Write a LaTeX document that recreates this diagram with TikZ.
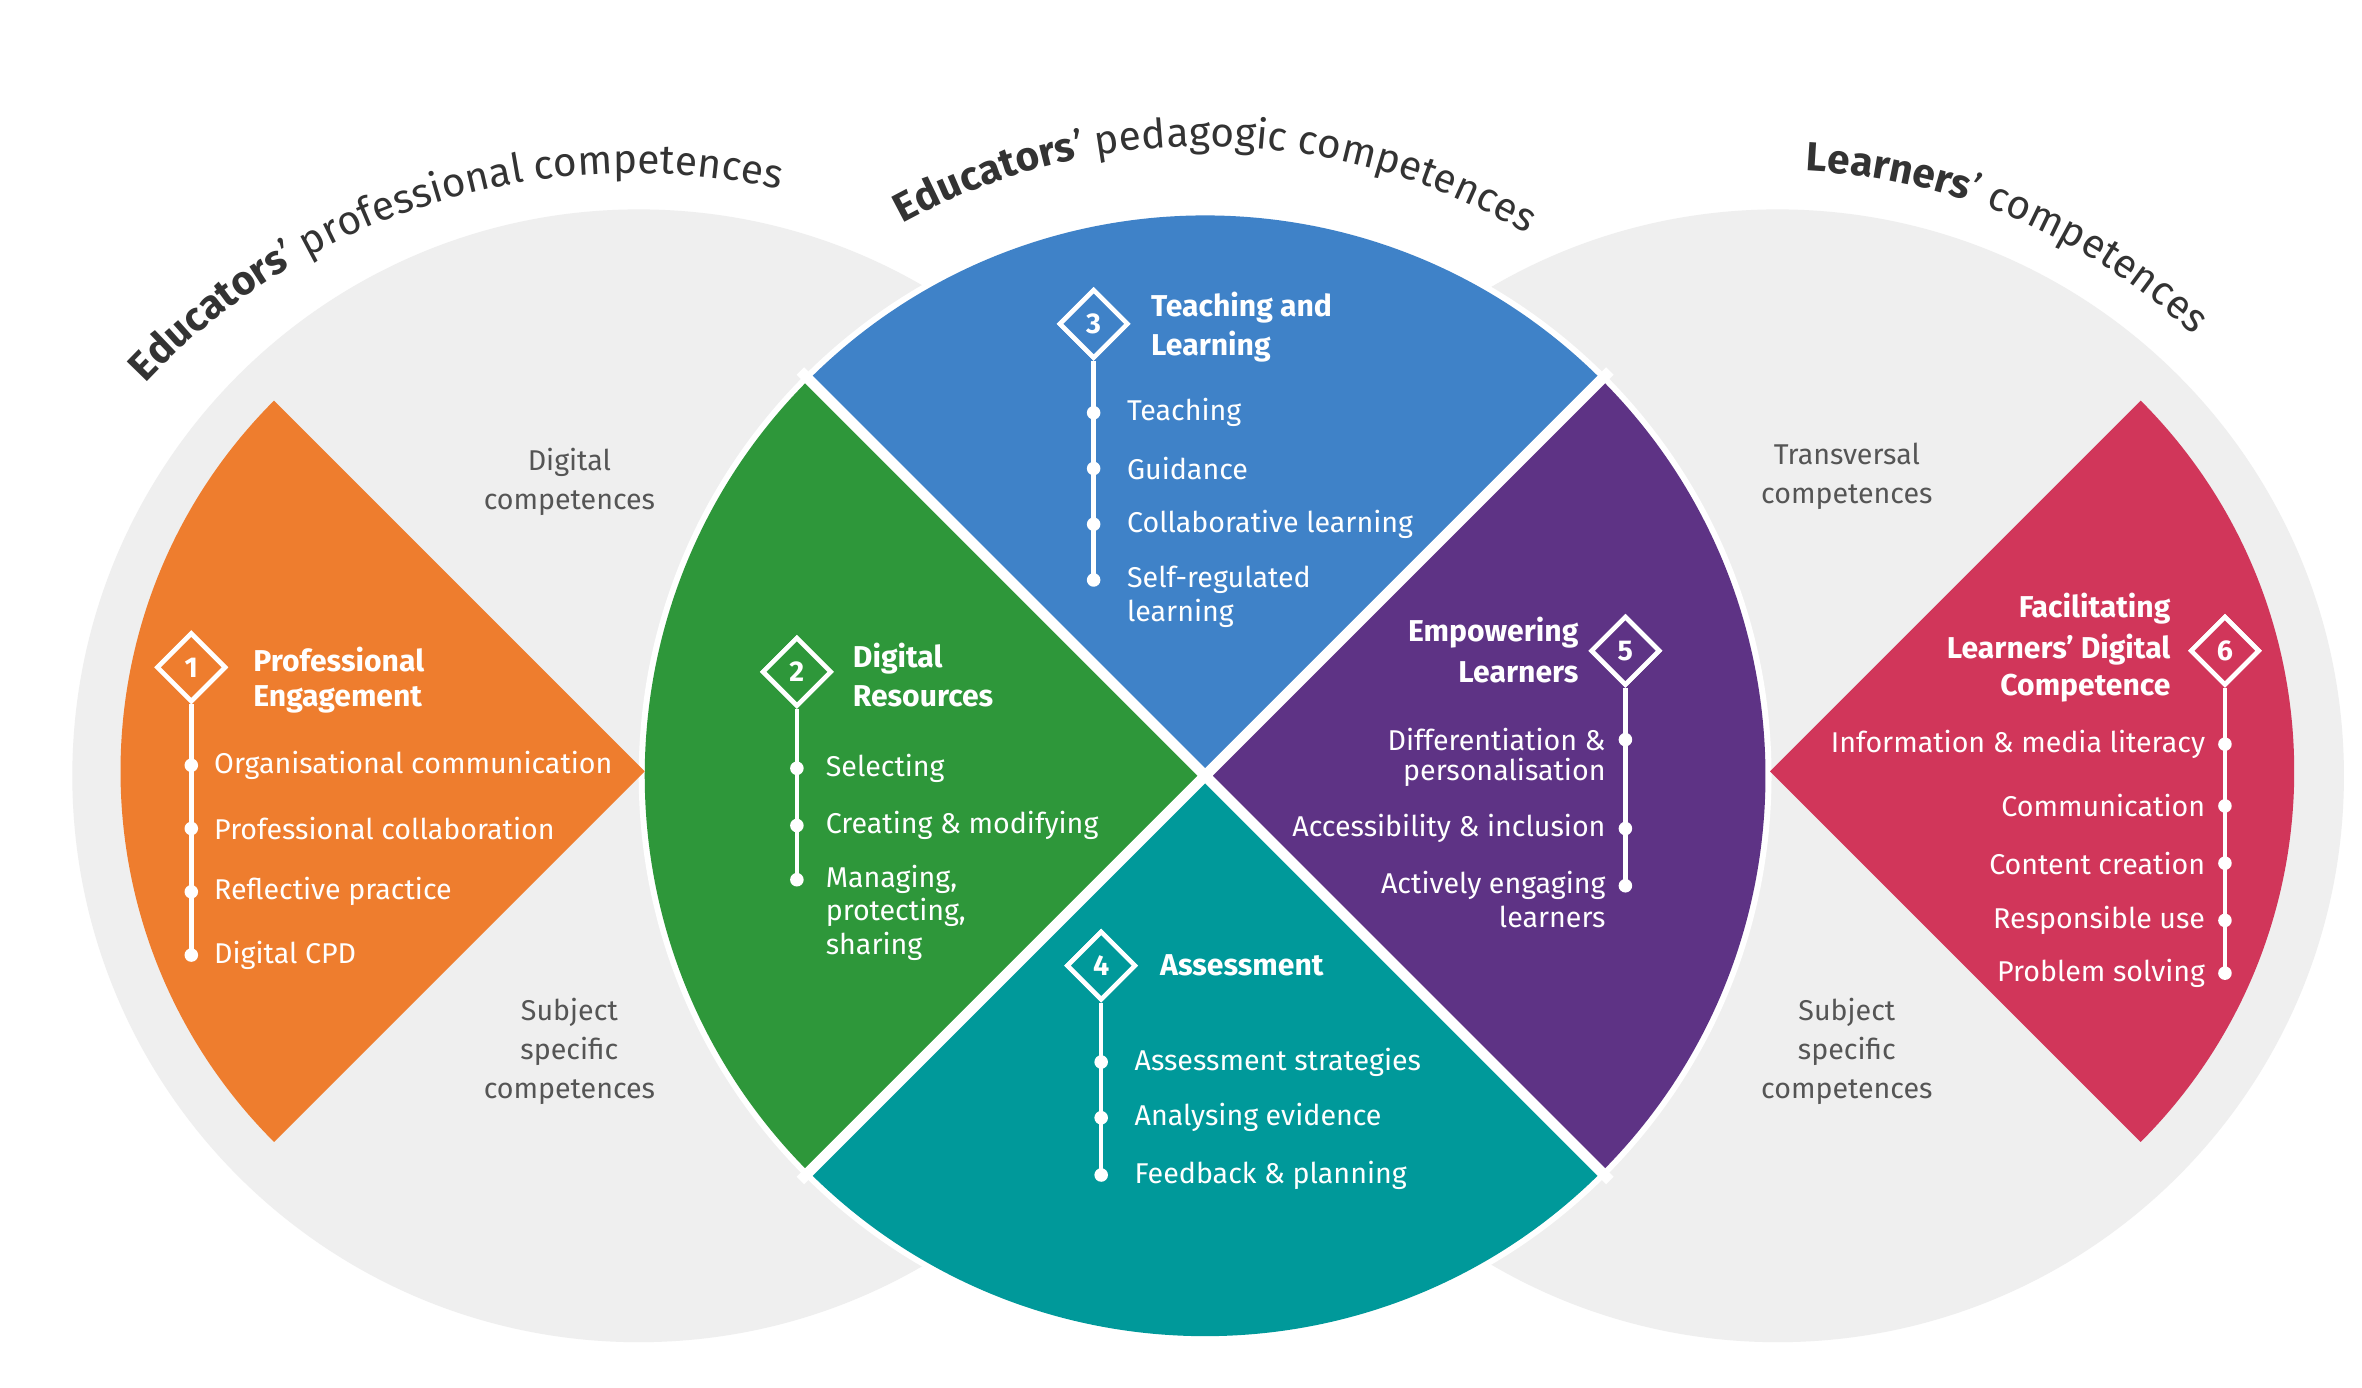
\documentclass[tikz,border=0pt]{standalone}
\usepackage{fontspec}
\setmainfont{Fira Sans}
\usetikzlibrary{shapes.geometric,decorations.text}
\definecolor{cgrey}{HTML}{EFEFEF}
\definecolor{corange}{HTML}{EE7D2E}
\definecolor{cgreen}{HTML}{2E973A}
\definecolor{cblue}{HTML}{3F82C8}
\definecolor{cteal}{HTML}{00999A}
\definecolor{cpurple}{HTML}{5E3385}
\definecolor{cred}{HTML}{D1365A}
\definecolor{ctext}{HTML}{555555}
\definecolor{chead}{HTML}{333333}
\tikzset{
 item/.style={text=white,font=\fontsize{19}{22}\selectfont,inner sep=0pt},
 ttl/.style={text=white,font=\fontsize{20}{22}\selectfont\bfseries,inner sep=0pt},
 gtx/.style={text=ctext,font=\fontsize{19}{26}\selectfont,align=center,inner sep=0pt},
 dia/.style={diamond,draw=white,line width=3pt,minimum size=46pt,inner sep=0pt,text=white,font=\fontsize{19}{22}\selectfont\bfseries},
 dot/.style={circle,fill=white,minimum size=9pt,inner sep=0pt},
 stem/.style={white,line width=3pt},
}
\begin{document}
\begin{tikzpicture}[x=1pt,y=1pt]
\useasboundingbox[fill=white] (0,0) rectangle (1568,-921);
% grey circles
\fill[cgrey] (424,-515) circle[radius=376];
\fill[cgrey] (1180,-515) circle[radius=376];
% centre circle
\fill[white] (800,-515) circle[radius=376];
\fill[cblue] (800,-515) -- ++(45:372) arc[start angle=45,end angle=135,radius=372] -- cycle;
\fill[cgreen] (800,-515) -- ++(135:372) arc[start angle=135,end angle=225,radius=372] -- cycle;
\fill[cteal] (800,-515) -- ++(225:372) arc[start angle=225,end angle=315,radius=372] -- cycle;
\fill[cpurple] (800,-515) -- ++(-45:372) arc[start angle=-45,end angle=45,radius=372] -- cycle;
\draw[white,line width=7pt] (800,-515) -- ++(45:380) (800,-515) -- ++(135:380) (800,-515) -- ++(225:380) (800,-515) -- ++(-45:380);
% side sectors
\fill[corange] (428,-512) -- ++(135:348) arc[start angle=135,end angle=225,radius=348] -- cycle;
\fill[cred] (1175,-512) -- ++(-45:348) arc[start angle=-45,end angle=45,radius=348] -- cycle;
% headings
\path[decorate,decoration={text along path,text align=center,text color=chead,
 text={|\fontsize{27}{30}\selectfont\bfseries|Educators|\fontsize{27}{30}\selectfont\mdseries|’ professional competences}}]
 (420,-560) ++(147:445) arc[start angle=147,end angle=67,radius=445];
\path[decorate,decoration={text along path,text align=center,text color=chead,
 text={|\fontsize{27}{30}\selectfont\bfseries|Educators|\fontsize{27}{30}\selectfont\mdseries|’ pedagogic competences}}]
 (800,-515) ++(130:418) arc[start angle=130,end angle=48,radius=418];
\path[decorate,decoration={text along path,text align=center,text color=chead,
 text={|\fontsize{27}{30}\selectfont\bfseries|Learners|\fontsize{27}{30}\selectfont\mdseries|’ competences}}]
 (1180,-515) ++(98:402) arc[start angle=98,end angle=36,radius=402];
% grey labels
\node[gtx] (g1) at (378,-320) {Digital\\competences};
\node[gtx] (g2) at (378,-698) {Subject\\specific\\competences};
\node[gtx] (g3) at (1226,-316) {Transversal\\competences};
\node[gtx] (g4) at (1226,-698) {Subject\\specific\\competences};
% 1 orange
\coordinate (e1) at (127,-634);
\node[dia,fill=corange] (d1) at (127,-443) {};
\draw[stem] (d1.south) -- (e1);
\node[dia,fill=corange] (d1b) at (127,-443) {1};
\node[ttl,anchor=west] (t1a) at (168,-438) {Professional};
\node[ttl,anchor=west] (t1b) at (168,-464) {Engagement};
\foreach \y/\t [count=\i] in {508/Organisational communication,550/Professional collaboration,592/Reflective practice,634/Digital CPD}{
 \node[dot] (p1\i) at (127,-\y) {};
 \node[item,anchor=west] (q1\i) at (142,-\y) {\t};}
% 2 green
\coordinate (e2) at (529,-584);
\node[dia,fill=cgreen] (d2) at (529,-446) {};
\draw[stem] (d2.south) -- (e2);
\node[dia,fill=cgreen] (d2b) at (529,-446) {2};
\node[ttl,anchor=west] (t2a) at (566,-437) {Digital};
\node[ttl,anchor=west] (t2b) at (566,-462) {Resources};
\foreach \y/\t [count=\i] in {510/Selecting,548/Creating \& modifying,584/{Managing,}}{
 \node[dot] (p2\i) at (529,-\y) {};
 \node[item,anchor=west] (q2\i) at (548,-\y) {\t};}
\node[item,anchor=west] (q2x) at (548,-606) {protecting,};
\node[item,anchor=west] (q2y) at (548,-628) {sharing};
% 3 blue
\coordinate (e3) at (726,-385);
\node[dia,fill=cblue] (d3) at (726,-215) {};
\draw[stem] (d3.south) -- (e3);
\node[dia,fill=cblue] (d3b) at (726,-215) {3};
\node[ttl,anchor=west] (t3a) at (764,-204) {Teaching and};
\node[ttl,anchor=west] (t3b) at (764,-230) {Learning};
\foreach \y/\t [count=\i] in {274/Teaching,311/Guidance,348/Collaborative learning,385/Self-regulated}{
 \node[dot] (p3\i) at (726,-\y) {};
 \node[item,anchor=west] (q3\i) at (748,-\y) {\t};}
\node[item,anchor=west] (q3x) at (748,-407) {learning};
% 4 teal
\coordinate (e4) at (731,-780);
\node[dia,fill=cteal] (d4) at (731,-641) {};
\draw[stem] (d4.south) -- (e4);
\node[dia,fill=cteal] (d4b) at (731,-641) {4};
\node[ttl,anchor=west] (t4a) at (770,-641) {Assessment};
\foreach \y/\t [count=\i] in {705/Assessment strategies,742/Analysing evidence,780/Feedback \& planning}{
 \node[dot] (p4\i) at (731,-\y) {};
 \node[item,anchor=west] (q4\i) at (753,-\y) {\t};}
% 5 purple
\coordinate (e5) at (1079,-590);
\node[dia,fill=cpurple] (d5) at (1079,-432) {};
\draw[stem] (d5.south) -- (e5);
\node[dia,fill=cpurple] (d5b) at (1079,-432) {5};
\node[ttl,anchor=east] (t5a) at (1048,-420) {Empowering};
\node[ttl,anchor=east] (t5b) at (1048,-446) {Learners};
\foreach \y/\t [count=\i] in {491/Differentiation \&,550/Accessibility \& inclusion,588/Actively engaging}{
 \node[dot] (p5\i) at (1079,-\y) {};
 \node[item,anchor=east] (q5\i) at (1066,-\y) {\t};}
\node[item,anchor=east] (q5x) at (1066,-513) {personalisation};
\node[item,anchor=east] (q5y) at (1066,-609) {learners};
% 6 red
\coordinate (e6) at (1477,-646);
\node[dia,fill=cred] (d6) at (1477,-432) {};
\draw[stem] (d6.south) -- (e6);
\node[dia,fill=cred] (d6b) at (1477,-432) {6};
\node[ttl,anchor=east] (t6a) at (1441,-404) {Facilitating};
\node[ttl,anchor=east] (t6b) at (1441,-431) {Learners’ Digital};
\node[ttl,anchor=east] (t6c) at (1441,-457) {Competence};
\foreach \y/\t [count=\i] in {494/Information \& media literacy,535/Communication,573/Content creation,611/Responsible use,646/Problem solving}{
 \node[dot] (p6\i) at (1477,-\y) {};
 \node[item,anchor=east] (q6\i) at (1464,-\y) {\t};}
\end{tikzpicture}
\end{document}
